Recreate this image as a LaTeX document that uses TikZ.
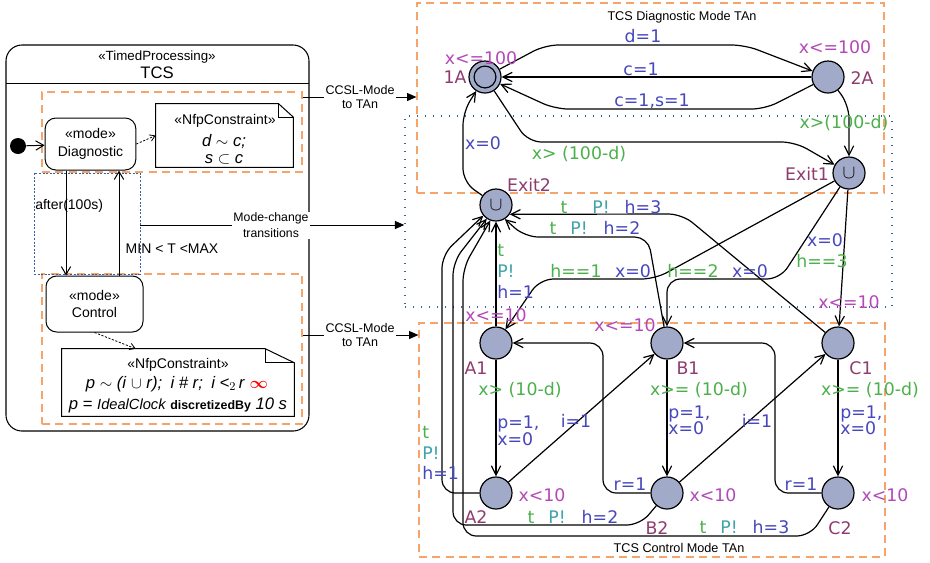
\documentclass[tikz,border=0pt]{standalone}
\usepackage{amsmath,amssymb}
\usepackage{fontspec}
\setmainfont{Liberation Sans}
\newfontfamily\uppfont{DejaVu Sans}
\usetikzlibrary{arrows.meta,calc,positioning,fit}
\definecolor{LocFill}{HTML}{A2AAC9}
\definecolor{InvPink}{HTML}{B348B8}
\definecolor{LocName}{HTML}{8E3B6E}
\definecolor{GuardGreen}{HTML}{4BB04B}
\definecolor{SyncTeal}{HTML}{3FA3A8}
\definecolor{UpdBlue}{HTML}{4747BD}
\definecolor{ModeOrange}{HTML}{F5A46C}
\definecolor{ChgBlue}{HTML}{3562A6}
\tikzset{
  loc/.style={circle, draw=black, line width=0.9pt, fill=LocFill,
             minimum size=24pt, inner sep=0pt},
  lbl/.style={inner sep=0pt, text height=9.4pt, text depth=0pt,
             font=\uppfont\fontsize{13}{15}\selectfont},
  inv/.style={lbl, text=InvPink},
  lname/.style={lbl, text=LocName},
  grd/.style={lbl, text=GuardGreen},
  syn/.style={lbl, text=SyncTeal},
  upd/.style={lbl, text=UpdBlue},
  tr/.style={draw, line width=0.9pt, rounded corners=10pt,
             -{Straight Barb[length=7pt,width=7pt]}},
  umltr/.style={draw, line width=0.75pt, -{Straight Barb[length=6pt,width=7pt]}},
  deptr/.style={draw, line width=0.6pt, dash pattern=on 1.6pt off 1.2pt,
             -{Straight Barb[length=4pt,width=5pt]}},
  filltr/.style={draw, line width=0.75pt, -{Triangle[length=7pt,width=6pt]}},
  plainln/.style={draw, line width=0.75pt},
  modebox/.style={draw, line width=0.75pt, rounded corners=8pt, fill=white,
             align=center, font=\fontsize{10.5}{13}\selectfont},
  notefrm/.style={draw, line width=0.75pt, line join=miter},
  modefrm/.style={draw=ModeOrange, line width=0.9pt, dash pattern=on 6pt off 4pt,
             inner sep=0pt},
  chgfrm/.style={draw=ChgBlue, line width=1.1pt, dash pattern=on 1.1pt off 4.9pt,
             inner sep=0pt},
  umltxt/.style={inner sep=0pt, text height=7.5pt, text depth=0pt,
             font=\fontsize{10.5}{12}\selectfont},
  linktxt/.style={align=center, fill=white, inner sep=1pt},
  ttl/.style={inner sep=0pt, font=\fontsize{9.5}{11}\selectfont},
}

\begin{document}
\begin{tikzpicture}[x=0.75pt, y=-0.75pt]
\useasboundingbox (0,0) rectangle (930,562);

\node[fit={(6,45) (309,431)}, draw, line width=0.8pt, rounded corners=12pt, inner sep=0pt] (tcsbox) {};
\draw[plainln] (6,83) -- (309,83);
\node[font=\fontsize{10}{12}\selectfont] (stereo) at (157,57) {«TimedProcessing»};
\node[font=\fontsize{12.5}{14}\selectfont] (tcsname) at (157,73) {TCS};

\node[modefrm, fit={(42,92) (302,172)}] (ddiag) {};
\node[modefrm, fit={(42,274) (302,424)}] (dctrl) {};
\node[chgfrm, draw=ChgBlue, line width=0.7pt, dash pattern=on 1.5pt off 1.2pt, fit={(34,173) (140,274)}] (mcleft) {};

\node[modebox, minimum width=68pt, minimum height=39pt] (diag) at (90.5,144) {«mode»\\Diagnostic};
\node[modebox, minimum width=72.75pt, minimum height=42pt] (ctrl) at (94.5,304) {«mode»\\Control};
\node[circle, fill=black, minimum size=12pt, inner sep=0pt] (init) at (18,146) {};
\draw[umltr] (init) -- (diag);

\coordinate (xdown) at (66,0);
\coordinate (xup) at (119,0);
\draw[umltr] (diag.south -| xdown) -- (ctrl.north -| xdown);
\draw[umltr] (ctrl.north -| xup) -- (diag.south -| xup);
\node[umltxt, anchor=west] (aftlbl) at (35,204) {after(100s)};
\node[umltxt] (minmax) at (172,248) {MIN < T <MAX};

\node[minimum width=102.75pt, minimum height=47.25pt, inner sep=0pt] (nfpa) at (224.5,135.5) {};
\draw[notefrm] (nfpa.south west) -- (nfpa.north west) -- ([xshift=-11pt]nfpa.north east)
  -- ([yshift=-10pt]nfpa.north east) -- (nfpa.south east) -- cycle;
\draw[notefrm] ([xshift=-11pt]nfpa.north east) -- ([xshift=-11pt,yshift=-10pt]nfpa.north east)
  -- ([yshift=-10pt]nfpa.north east);
\node[umltxt] (nfpahd) at (225,119) {«NfpConstraint»};
\node[font=\itshape\fontsize{12.5}{14}\selectfont, inner sep=0pt] (nfpaone) at (224,142) {d $\sim$ c;};
\node[font=\itshape\fontsize{12.5}{14}\selectfont, inner sep=0pt] (nfpatwo) at (224,159) {s $\subset$ c};
\draw[deptr] (diag.east) -- (nfpa.west);

\node[minimum width=174pt, minimum height=50.25pt, inner sep=0pt] (nfpb) at (178,382.5) {};
\draw[notefrm] (nfpb.south west) -- (nfpb.north west) -- ([xshift=-21.75pt]nfpb.north east)
  -- ([yshift=-10.5pt]nfpb.north east) -- (nfpb.south east) -- cycle;
\draw[notefrm] ([xshift=-21.75pt]nfpb.north east) -- ([xshift=-21.75pt,yshift=-10.5pt]nfpb.north east)
  -- ([yshift=-10.5pt]nfpb.north east);
\node[umltxt] (nfpbhd) at (178,363) {«NfpConstraint»};
\node[font=\fontsize{12.5}{14}\selectfont, inner sep=0pt] (nfpbone) at (177,384)
  {\textit{p} $\sim$ \textit{(i} $\cup$ \textit{r);}\enspace \textit{i \# r;}\enspace \textit{i <}$_2$\,\textit{r} \textcolor{red}{$\boldsymbol{\infty}$}};
\node[font=\fontsize{12.5}{14}\selectfont, inner sep=0pt] (nfpbtwo) at (178,405)
  {\textit{p} = {\itshape\fontsize{11}{13}\selectfont IdealClock} {\bfseries\fontsize{9.3}{11}\selectfont discretizedBy} \textit{10 s}};
\draw[deptr] (ctrl.south) -- ([xshift=55.5pt]nfpb.north west);

\node[modefrm, fit={(417,3) (884,193)}] (tadiag) {};
\node[chgfrm, fit={(405,116) (892,307)}] (mcright) {};
\node[modefrm, fit={(419,323) (885,557)}] (tactrl) {};
\node[ttl] (tadiagttl) at (682,17) {TCS Diagnostic Mode TAn};
\node[ttl] (tactrlttl) at (679,548) {TCS Control Mode TAn};

\node[linktxt, font=\fontsize{9.2}{11.5}\selectfont] (modechg) at (271,225) {Mode-change\\transitions};
\draw[plainln] (mcleft.east |- modechg) -- (modechg);
\draw[filltr] (modechg) -- (mcright.west |- modechg);
\node[linktxt, font=\fontsize{9.4}{10.5}\selectfont] (ccslone) at (360,97) {CCSL-Mode\\to TAn};
\draw[plainln] (ddiag.east |- ccslone) -- (ccslone);
\draw[filltr] (ccslone) -- (tadiag.west |- ccslone);
\node[linktxt, font=\fontsize{9.4}{10.5}\selectfont] (ccsltwo) at (360,335) {CCSL-Mode\\to TAn};
\draw[plainln] (dctrl.east |- ccsltwo) -- (ccsltwo);
\draw[filltr] (ccsltwo) -- (tactrl.west |- ccsltwo);

\node[loc] (d1) at (485,77) {};
\draw[line width=0.9pt] (d1) circle[radius=8.2pt];
\node[loc] (d2) at (828,77) {};
\node[loc, font=\Large] (exitone) at (849,173) {$\cup$};
\node[loc, font=\Large] (exittwo) at (496,205) {$\cup$};
\node[loc] (a1) at (496,343) {};
\node[loc] (b1) at (667,343) {};
\node[loc] (c1) at (838,343) {};
\node[loc] (a2) at (496,493) {};
\node[loc] (b2) at (667,493) {};
\node[loc] (c2) at (838,493) {};

\draw[tr] (d1) -- (545,45) -- (745,45) -- (d2);
\draw[tr] (d2) -- (d1);
\draw[tr] (d2) -- (765,109) -- (555,109) -- (d1);
\draw[tr] (d1) -- (528,142) -- (795,142) -- (exitone);
\draw[tr] (d2) -- (849,105) -- (exitone);
\draw[tr] (exittwo) -- (463,182) -- (463,112) -- (d1);

\draw[tr] (exitone) -- (655,279) -- (540,279) -- (a1);
\draw[tr] (exitone) -- (780,279) -- (667,279) -- (b1);
\draw[tr] (exitone) -- (c1);
\draw[tr] (a1) -- (exittwo);
\draw[tr] (b1) -- (648,237) -- (525,237) -- (exittwo.-58);
\draw[tr] (c1) -- (682,214) -- (exittwo.-34);
\draw[tr] (a2) -- (442,493) -- (442,255) -- (exittwo.-140);
\draw[tr] (b2) -- (640,525) -- (453,525) -- (453,262) -- (exittwo.-124);
\draw[tr] (c2) -- (810,536) -- (463,536) -- (463,268) -- (exittwo.-110);
\draw[tr] (a1) -- (a2);
\draw[tr] (a2) -- (b1);
\draw[tr] (b1) -- (b2);
\draw[tr] (b2) -- (c1);
\draw[tr] (c1) -- (c2);
\draw[tr] (b2) -- (603,493) -- (603,343) -- (a1);
\draw[tr] (c2) -- (775,493) -- (775,343) -- (b1);

\node[inv] (invd1) at (481,58) {x<=100};
\node[lname] (nmd1) at (455,77) {1A};
\node[inv] (invd2) at (835,47) {x<=100};
\node[lname] (nmd2) at (862,78) {2A};
\node[upd] (upddtop) at (643,36) {d=1};
\node[upd] (upddmid) at (641,69) {c=1};
\node[upd] (upddbot) at (652,100) {c=1,s=1};
\node[grd] (grdone) at (579,153) {x> (100-d)};
\node[grd] (grdtwo) at (844,122) {x>(100-d)};
\node[upd] (updback) at (483,143) {x=0};
\node[lname] (nmexittwo) at (529,185) {Exit2};
\node[lname] (nmexitone) at (807,174) {Exit1};

\node[inv] (inva1) at (496,315) {x<=10};
\node[inv] (invb1) at (625,325) {x<=10};
\node[inv] (invc1) at (849,302) {x<=10};
\node[lname] (nma1) at (476,368) {A1};
\node[lname] (nmb1) at (688,368) {B1};
\node[lname] (nmc1) at (861,368) {C1};
\node[lname] (nma2) at (476,517) {A2};
\node[lname] (nmb2) at (657,528) {B2};
\node[lname] (nmc2) at (840,528) {C2};
\node[inv] (inva2) at (542,495) {x<10};
\node[inv] (invb2) at (713,495) {x<10};
\node[inv] (invc2) at (885,495) {x<10};
\node[grd] (grda) at (520,389) {x> (10-d)};
\node[grd] (grdb) at (699,389) {x>= (10-d)};
\node[grd] (grdc) at (870,389) {x>= (10-d)};
\node[upd, anchor=west] (updaone) at (497,422) {p=1,};
\node[upd, anchor=west] (updatwo) at (497,439) {x=0};
\node[upd, anchor=west] (updbone) at (668,412) {p=1,};
\node[upd, anchor=west] (updbtwo) at (668,428) {x=0};
\node[upd, anchor=west] (updcone) at (840,412) {p=1,};
\node[upd, anchor=west] (updctwo) at (840,428) {x=0};
\node[upd] (updiab) at (576,421) {i=1};
\node[upd] (updibc) at (757,421) {i=1};
\node[upd] (updrba) at (630,484) {r=1};
\node[upd] (updrcb) at (801,484) {r=1};

\node[grd, anchor=west] (grdtao) at (497,250) {t};
\node[syn, anchor=west] (synao) at (497,271) {P!};
\node[upd, anchor=west] (updao) at (497,292) {h=1};
\node[grd, anchor=west] (grdtat) at (422,432) {t};
\node[syn, anchor=west] (synat) at (422,453) {P!};
\node[upd, anchor=west] (updat) at (422,473) {h=1};
\node[grd] (grdtbt) at (531,517) {t};
\node[syn] (synbt) at (557,517) {P!};
\node[upd] (updbt) at (600,517) {h=2};
\node[grd] (grdtct) at (703,527) {t};
\node[syn] (synct) at (729,527) {P!};
\node[upd] (updct) at (771,527) {h=3};
\node[grd] (grdtco) at (564,207) {t};
\node[syn] (synco) at (601,207) {P!};
\node[upd] (updco) at (643,207) {h=3};
\node[grd] (grdtbo) at (553,228) {t};
\node[syn] (synbo) at (579,228) {P!};
\node[upd] (updbo) at (622,228) {h=2};
\node[grd] (grdea) at (576,271) {h==1};
\node[upd] (updea) at (633,271) {x=0};
\node[grd] (grdeb) at (693,271) {h==2};
\node[upd] (updeb) at (750,271) {x=0};
\node[upd] (updec) at (825,240) {x=0};
\node[grd] (grdec) at (822,261) {h==3};
\end{tikzpicture}
\end{document}
